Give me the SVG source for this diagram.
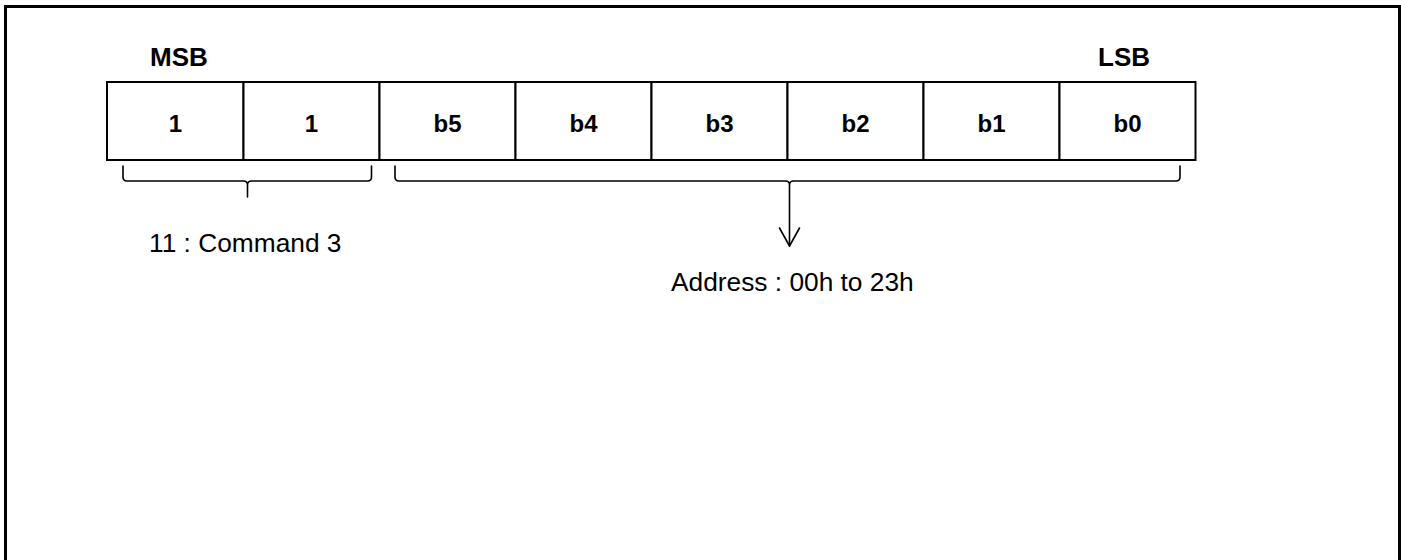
<svg xmlns="http://www.w3.org/2000/svg" width="1401" height="560" viewBox="0 0 1401 560">
  <style>
    .frame { fill: none; stroke: #000; stroke-width: 3; }
    .cell { fill: #fff; stroke: #000; stroke-width: 2; }
    .bold { font-family: "Liberation Sans", Arial, sans-serif; font-weight: bold; font-size: 26px; fill: #000; }
    .cellText { font-family: "Liberation Sans", Arial, sans-serif; font-weight: bold; font-size: 24px; fill: #000; text-anchor: middle; }
    .label { font-family: "Liberation Sans", Arial, sans-serif; font-size: 26.3px; fill: #000; }
    .brace { fill: none; stroke: #000; stroke-width: 1.6; stroke-linejoin: round; stroke-linecap: round; }
  </style>

  <!-- outer frame (open at the bottom edge of the canvas) -->
  <rect class="frame" x="5.5" y="6.5" width="1394" height="600"/>

  <!-- bit-order labels -->
  <text class="bold" x="150" y="66">MSB</text>
  <text class="bold" x="1098" y="66">LSB</text>

  <!-- register bit cells -->
  <g id="bit7"><rect class="cell" x="107" y="82" width="136.5" height="78"/><text class="cellText" x="175.5" y="132">1</text></g>
  <g id="bit6"><rect class="cell" x="243.5" y="82" width="136" height="78"/><text class="cellText" x="311.5" y="132">1</text></g>
  <g id="bit5"><rect class="cell" x="379.5" y="82" width="136" height="78"/><text class="cellText" x="447.5" y="132">b5</text></g>
  <g id="bit4"><rect class="cell" x="515.5" y="82" width="136" height="78"/><text class="cellText" x="583.5" y="132">b4</text></g>
  <g id="bit3"><rect class="cell" x="651.5" y="82" width="136" height="78"/><text class="cellText" x="719.5" y="132">b3</text></g>
  <g id="bit2"><rect class="cell" x="787.5" y="82" width="136" height="78"/><text class="cellText" x="855.5" y="132">b2</text></g>
  <g id="bit1"><rect class="cell" x="923.5" y="82" width="136" height="78"/><text class="cellText" x="991.5" y="132">b1</text></g>
  <g id="bit0"><rect class="cell" x="1059.5" y="82" width="136" height="78"/><text class="cellText" x="1127.5" y="132">b0</text></g>

  <!-- braces and pointer -->
  <g id="connectors">
    <path class="brace" d="M123,166 V177 Q123,181 127,181 H243.5 Q247.5,181 247.5,185 V197 M247.5,185 Q247.5,181 251.5,181 H367.5 Q371.5,181 371.5,177 V166"/>
    <path class="brace" d="M395,166 V177 Q395,181 399,181 H785.5 Q789.5,181 789.5,185 V246 M789.5,185 Q789.5,181 793.5,181 H1176 Q1180,181 1180,177 V166"/>
    <path class="brace" d="M779.5,228 L789.5,246 L799.5,228"/>
  </g>

  <!-- field descriptions -->
  <g id="cmdLabel"><text class="label" x="149" y="252">11 : Command 3</text></g>
  <g id="addrLabel"><text class="label" x="671" y="291">Address : 00h to 23h</text></g>
</svg>
